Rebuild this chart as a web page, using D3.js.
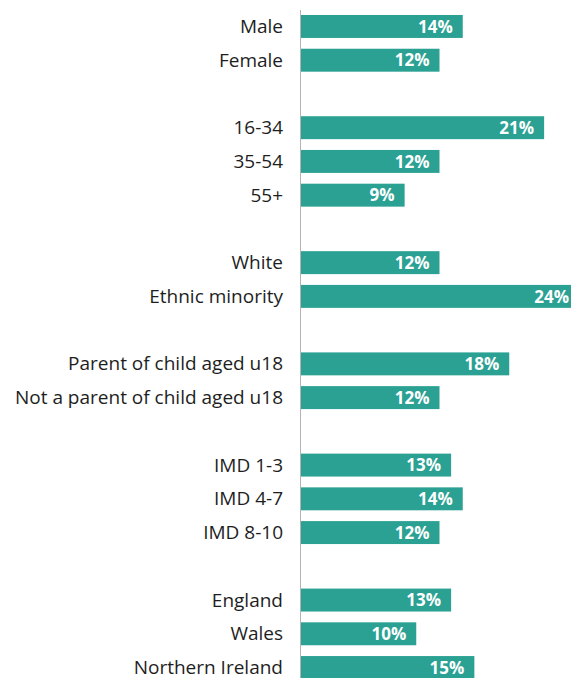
<!DOCTYPE html>
<html>
<head>
<meta charset="utf-8">
<script src="https://cdn.jsdelivr.net/npm/d3@7"></script>
<style>
  html, body { margin: 0; padding: 0; background: #fff; }
  svg { display: block; }
</style>
</head>
<body>
<div id="chart"></div>
<script>
// Groups of respondents, with empty spacer rows between groups
const categories = [
  "Male", "Female", "",
  "16-34", "35-54", "55+", " ",
  "White", "Ethnic minority", "  ",
  "Parent of child aged u18", "Not a parent of child aged u18", "   ",
  "IMD 1-3", "IMD 4-7", "IMD 8-10", "    ",
  "England", "Wales", "Northern Ireland"
];
const values = [
  14, 12, null,
  21, 12, 9, null,
  12, 24, null,
  18, 12, null,
  13, 14, 12, null,
  13, 10, 15
];

const width = 571, height = 678;
const margin = { top: 9.6, right: 0, bottom: -6.4, left: 300 };

const svg = d3.select("#chart").append("svg")
  .attr("width", width)
  .attr("height", height);

const rows = categories.map((c, i) => ({ label: c, value: values[i] }));

const x = d3.scaleLinear()
  .domain([0, 24])
  .range([margin.left, margin.left + 279]);

const y = d3.scaleBand()
  .domain(categories)
  .range([margin.top, height - margin.bottom])
  .paddingInner(0.32)
  .paddingOuter(0.16);

// Category labels
const axis = d3.axisLeft(y).tickSize(0).tickPadding(17)
  .tickFormat(d => d.trim());
const gAxis = svg.append("g")
  .attr("transform", `translate(${margin.left},0)`)
  .call(axis);
gAxis.select(".domain").remove();
gAxis.selectAll("text")
  .attr("fill", "#1e1e1e")
  .attr("dy", "0.34em")
  .style("font-family", "'Open Sans', 'Noto Sans', sans-serif")
  .style("font-size", "19px");

const data = rows.filter(d => d.value != null);

// Bars
svg.append("g").selectAll("rect")
  .data(data)
  .join("rect")
  .attr("x", x(0))
  .attr("y", d => y(d.label))
  .attr("width", d => x(d.value) - x(0))
  .attr("height", y.bandwidth())
  .attr("fill", "#2aa193");

// Value labels inside bar ends
svg.append("g").selectAll("text")
  .data(data)
  .join("text")
  .attr("x", d => x(d.value) - 10)
  .attr("y", d => y(d.label) + y.bandwidth() / 2)
  .attr("dy", "0.36em")
  .attr("text-anchor", "end")
  .attr("fill", "#fff")
  .style("font-family", "'Open Sans', 'Noto Sans', sans-serif")
  .style("font-weight", "700")
  .style("font-size", "17px")
  .text(d => d.value + "%");

// Baseline
svg.append("line")
  .attr("x1", x(0) + 0.5).attr("x2", x(0) + 0.5)
  .attr("y1", 10).attr("y2", height)
  .attr("stroke", "#b4b4b4")
  .attr("stroke-width", 1);
</script>
</body>
</html>
